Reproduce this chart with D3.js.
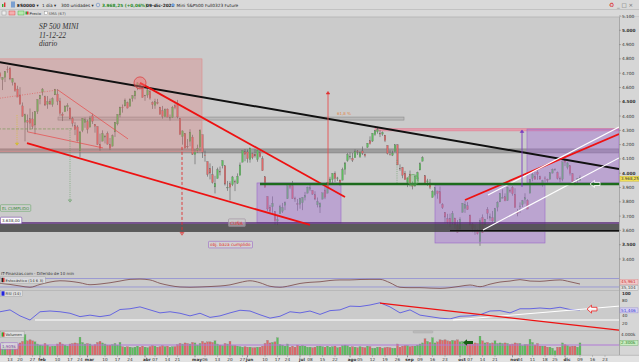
<!DOCTYPE html>
<html>
<head>
<meta charset="utf-8">
<script src="https://cdn.jsdelivr.net/npm/d3@7"></script>
<style>
html, body { margin: 0; padding: 0; background: #cbcbcb; overflow: hidden; }
svg { display: block; font-family: "DejaVu Sans", sans-serif; }
</style>
</head>
<body>
<script>
// daily candles, [open, high, low, close], one array per month (2022)
const ohlcJan = [[4778,4797,4758,4797],[4804,4819,4774,4794],[4787,4798,4699,4701],[4693,4725,4671,4696],[4698,4708,4663,4677],[4655,4673,4582,4670],[4670,4714,4638,4713],[4728,4749,4703,4726],[4733,4744,4651,4659],[4637,4666,4614,4663],[4632,4633,4569,4577],[4589,4612,4532,4533],[4548,4602,4480,4483],[4471,4495,4396,4398],[4357,4417,4223,4410],[4367,4411,4287,4356],[4381,4453,4305,4350],[4380,4429,4309,4327],[4337,4432,4273,4432],[4431,4516,4415,4516]]
const ohlcFeb = [[4520,4547,4482,4547],[4567,4596,4544,4589],[4535,4543,4470,4477],[4482,4540,4451,4501],[4505,4522,4477,4484],[4480,4531,4465,4522],[4548,4590,4548,4587],[4554,4589,4477,4504],[4506,4527,4402,4419],[4413,4426,4365,4402],[4430,4472,4430,4471],[4464,4490,4434,4475],[4457,4460,4376,4380],[4384,4394,4327,4349],[4333,4357,4267,4305],[4324,4336,4222,4226],[4155,4295,4114,4289],[4299,4385,4287,4385],[4354,4389,4318,4374]]
const ohlcMar = [[4363,4375,4278,4306],[4322,4401,4322,4387],[4401,4417,4345,4363],[4342,4343,4284,4329],[4327,4327,4199,4201],[4202,4277,4157,4171],[4224,4300,4224,4278],[4253,4269,4209,4260],[4279,4292,4200,4204],[4202,4247,4162,4173],[4189,4271,4188,4262],[4289,4358,4254,4358],[4345,4412,4335,4412],[4407,4465,4392,4463],[4462,4481,4424,4461],[4470,4523,4469,4512],[4494,4501,4453,4456],[4469,4521,4465,4520],[4522,4546,4501,4543],[4541,4575,4517,4576],[4603,4637,4581,4632],[4624,4627,4589,4602],[4599,4603,4530,4530]]
const ohlcApr = [[4541,4548,4507,4546],[4547,4593,4528,4583],[4573,4593,4514,4525],[4495,4503,4450,4481],[4474,4521,4451,4500],[4495,4520,4482,4488],[4463,4464,4408,4413],[4437,4471,4382,4397],[4395,4454,4392,4447],[4449,4453,4392,4393],[4386,4411,4368,4392],[4390,4471,4387,4462],[4473,4489,4447,4459],[4489,4513,4384,4394],[4385,4386,4267,4272],[4256,4300,4200,4296],[4279,4279,4175,4175],[4188,4240,4173,4184],[4223,4308,4188,4288],[4253,4269,4128,4132]]
const ohlcMay = [[4131,4169,4063,4155],[4159,4200,4144,4175],[4182,4308,4152,4300],[4270,4270,4107,4147],[4128,4158,4081,4123],[4082,4082,3976,3991],[4035,4069,3957,4001],[3990,4050,3928,3935],[3904,3982,3859,3930],[3963,4039,3963,4024],[4013,4047,3985,4008],[4052,4089,4034,4089],[4052,4052,3914,3924],[3900,3946,3877,3901],[3927,3944,3810,3901],[3920,3981,3910,3974],[3942,3955,3875,3941],[3930,3999,3925,3979],[3985,4075,3985,4058],[4077,4158,4077,4158],[4151,4169,4084,4132]]
const ohlcJun = [[4149,4166,4074,4101],[4095,4177,4074,4177],[4137,4143,4098,4109],[4134,4168,4110,4121],[4096,4164,4080,4161],[4148,4164,4110,4116],[4102,4119,4017,4018],[3975,3975,3900,3901],[3838,3838,3735,3750],[3763,3778,3722,3735],[3765,3838,3723,3790],[3733,3733,3640,3667],[3665,3708,3637,3675],[3716,3779,3716,3765],[3734,3792,3722,3760],[3775,3803,3742,3796],[3821,3913,3821,3912],[3920,3928,3889,3900],[3913,3946,3820,3822],[3826,3836,3800,3819],[3786,3819,3738,3785]]
const ohlcJul = [[3782,3829,3752,3825],[3793,3832,3742,3831],[3831,3869,3810,3845],[3860,3906,3860,3903],[3888,3919,3875,3899],[3880,3880,3849,3854],[3851,3874,3812,3819],[3779,3830,3761,3802],[3763,3796,3722,3790],[3819,3863,3817,3863],[3883,3903,3819,3831],[3860,3939,3860,3937],[3935,3975,3929,3960],[3956,3999,3927,3999],[4000,4013,3938,3962],[3966,3975,3946,3967],[3953,3954,3911,3921],[3951,4039,3951,4024],[4026,4079,3990,4072],[4088,4141,4080,4130]]
const ohlcAug = [[4113,4145,4097,4119],[4104,4141,4079,4091],[4108,4167,4108,4155],[4155,4162,4128,4152],[4115,4152,4107,4145],[4156,4187,4128,4140],[4133,4138,4111,4122],[4182,4211,4178,4210],[4227,4258,4201,4207],[4225,4280,4219,4280],[4270,4302,4262,4297],[4290,4325,4277,4305],[4281,4302,4253,4274],[4274,4292,4262,4284],[4267,4267,4218,4228],[4195,4195,4131,4138],[4133,4160,4124,4129],[4126,4157,4120,4141],[4154,4200,4148,4199],[4199,4203,4057,4058],[4034,4062,4017,4031],[4041,4044,3965,3986],[4000,4016,3954,3955]]
const ohlcSep = [[3937,3970,3903,3967],[3994,4019,3907,3924],[3931,3942,3887,3908],[3910,3987,3907,3980],[3960,4011,3944,4006],[4022,4077,4022,4067],[4084,4119,4083,4110],[3983,3985,3921,3933],[3940,3961,3912,3946],[3932,3959,3889,3901],[3831,3880,3830,3873],[3849,3900,3839,3900],[3876,3877,3822,3856],[3871,3907,3789,3790],[3782,3791,3750,3758],[3727,3727,3648,3693],[3682,3716,3644,3655],[3686,3717,3623,3647],[3651,3736,3641,3719],[3687,3687,3610,3640],[3633,3672,3585,3586]]
const ohlcOct = [[3610,3692,3604,3678],[3726,3791,3726,3791],[3753,3807,3723,3783],[3772,3798,3744,3745],[3707,3711,3633,3640],[3645,3653,3588,3612],[3595,3641,3569,3589],[3591,3609,3571,3577],[3521,3685,3492,3670],[3690,3712,3584,3583],[3638,3680,3638,3678],[3746,3763,3679,3720],[3686,3718,3667,3695],[3689,3736,3656,3666],[3657,3757,3647,3753],[3762,3804,3733,3797],[3799,3862,3799,3859],[3825,3887,3825,3831],[3835,3859,3804,3807],[3808,3905,3808,3901],[3882,3893,3863,3872]]
const ohlcNov = [[3901,3911,3843,3856],[3853,3895,3758,3760],[3733,3750,3699,3720],[3766,3796,3722,3771],[3780,3813,3764,3807],[3817,3860,3787,3828],[3810,3818,3751,3749],[3860,3960,3860,3956],[3964,4001,3944,3993],[3978,4008,3956,3957],[4007,4028,3954,3992],[3977,3983,3955,3959],[3919,3954,3906,3947],[3967,3979,3936,3965],[3957,3962,3934,3950],[3957,4005,3957,4004],[4001,4033,3999,4027],[4024,4035,4020,4026],[4005,4012,3956,3964],[3965,3977,3937,3958],[3958,4080,3944,4080]]
const ohlcDec = [[4087,4100,4050,4077],[4041,4077,4027,4072],[4053,4053,3984,3999],[3996,4001,3919,3941],[3937,3952,3917,3934],[3947,3966,3933,3964],[3950,3985,3945,3968]]

// volume, thousands of contracts
const volJan = [1500,1800,2100,1900,1800,2300,1700,1600,1900,1800,2100,2000,2300,2600,3900,2700,2900,2700,2500,2100]
const volFeb = [1900,1800,2200,1900,1600,1700,1700,2100,2400,2100,1900,1700,2100,2200,2300,2200,3400,2400,2100]
const volMar = [2200,2100,1800,2000,2400,2600,2300,2100,1900,1900,2000,2200,1900,2400,1600,1500,1600,1500,1400,1500,1700,1500,1700]
const volApr = [1500,1400,1600,1800,1700,1500,1600,1800,1600,1700,1500,1600,1600,2000,2200,2100,2300,2200,2100,2400]
const volMay = [2300,1900,2200,2600,2300,2500,2500,2400,2700,2100,1900,1800,2200,2100,2600,1800,1800,1700,1600,1500,1600]
const volJun = [1500,1500,1400,1400,1500,1500,1700,2200,2800,2300,2400,2500,3300,2000,1900,1700,2100,1500,1700,1500,1900]
const volJul = [1700,1800,1700,1500,1500,1400,1500,1700,1700,1600,1500,1700,1500,1600,1700,1400,1500,1800,1900,1800]
const volAug = [1500,1600,1500,1400,1600,1500,1400,1700,1600,1300,1300,1500,1500,1300,1400,1500,1400,1300,1300,2100,1500,1700,1800]
const volSep = [1800,1600,1700,1700,1900,2100,2300,3100,2600,2400,3300,2300,2500,2900,2800,2900,2700,2600,2800,2700,2900]
const volOct = [2500,2600,2400,2200,2600,2100,2300,2200,3600,2700,2300,2400,2200,2300,2700,2200,2300,2200,2300,2200,2000]
const volNov = [2100,2300,2200,2200,1800,2000,2000,3000,2400,1900,2200,1700,1700,1700,1500,1500,1300,800,1500,1500,2300]
const volDec = [2000,1800,1600,1700,1700,1500,2300]

// oscillators read every 4th session
const rsi14 = [52,50,55,39,28,50,52,50,46,37,41,37,41,56,58,63,55,47,50,46,39,46,35,39,47,54,52,42,33,38,50,47,52,43,53,55,65,64,68,74,63,47,55,41,37,33,31,38,39,42,52,53,47,58,58,60,58,62,56,55]
const stoch = [50,46,38,27,18,38,55,64,60,50,36,41,50,62,74,76,70,46,30,20,18,20,23,27,35,52,64,50,25,18,29,45,53,57,66,70,70,73,74,74,50,18,15,15,12,10,15,25,34,22,40,55,62,72,62,60,66,70,57,41]

// x axis: [session index, label]
const dayTicks = [[8,'13'],[12,'20'],[17,'27'],[27,'10'],[32,'17'],[36,'24'],[46,'10'],[51,'17'],[56,'24'],[66,'07'],[71,'14'],[75,'21'],[86,'06'],[91,'13'],[96,'20'],[101,'27'],[110,'10'],[115,'17'],[119,'24'],[128,'08'],[133,'15'],[138,'22'],[148,'05'],[153,'12'],[158,'19'],[163,'26'],[172,'09'],[177,'16'],[182,'23'],[192,'07'],[197,'14'],[202,'21'],[212,'04'],[217,'11'],[222,'18'],[226,'25'],[236,'09'],[241,'16'],[246,'23']]
const monthTicks = [[20,'feb'],[39,'mar'],[62,'abr'],[82,'may'],[103,'jun'],[124,'jul'],[144,'ago'],[167,'sep'],[188,'oct'],[209,'nov'],[230,'dic']]
const priceTicks = [3400,3500,3600,3700,3800,3900,4000,4100,4200,4300,4400,4500,4600,4700,4800,4900,5000,5100]
const rsiTicks = [20,40,80,100]
const lastPrice = 3968.25

const candles = [].concat(ohlcJan, ohlcFeb, ohlcMar, ohlcApr, ohlcMay, ohlcJun, ohlcJul, ohlcAug, ohlcSep, ohlcOct, ohlcNov, ohlcDec)
const volumes = [].concat(volJan, volFeb, volMar, volApr, volMay, volJun, volJul, volAug, volSep, volOct, volNov, volDec)
const bars = candles.map((c, i) => ({i: i, o: c[0], h: c[1], l: c[2], c: c[3], v: volumes[i]}))
const oscIdx = d3.range(0, 237, 4)

const W = 639, H = 362, plotR = 619
const up = '#5cbf5c', down = '#e06868'

const x = d3.scaleLinear().domain([0, 236]).range([-10, 580])
const yP = d3.scaleLinear().domain([3400, 5100]).range([259, 16])
const yS = d3.scaleLinear().domain([0, 100]).range([289.8, 275.7])
const yR = d3.scaleLinear().domain([0, 100]).range([330.5, 293])
const yV = d3.scaleLinear().domain([0, 4000]).range([355, 334])
const iEnd = x.invert(plotR)

const es = d3.formatLocale({decimal: ',', thousands: '.', grouping: [3], currency: ['', '']})
const fmtP = es.format(',')
const fmt2 = es.format(',.2f')

const svg = d3.select('body').append('svg').attr('width', W).attr('height', H)
const defs = svg.append('defs')
defs.append('clipPath').attr('id', 'cMain').append('rect').attr('x', 0).attr('y', 17).attr('width', plotR).attr('height', 253)
defs.append('clipPath').attr('id', 'cLow').append('rect').attr('x', 0).attr('y', 270).attr('width', plotR).attr('height', 85)

// background, toolbar
svg.append('rect').attr('width', W).attr('height', H).attr('fill', '#cbcbcb')
svg.append('rect').attr('width', W).attr('height', 17).attr('fill', '#d9d9d9')
svg.append('line').attr('x1', 0).attr('x2', W).attr('y1', 9.5).attr('y2', 9.5).attr('stroke', '#c2c2c2')
svg.append('line').attr('x1', 0).attr('x2', W).attr('y1', 17).attr('y2', 17).attr('stroke', '#b8b8b8')
svg.append('rect').attr('x', plotR).attr('y', 17).attr('width', W - plotR).attr('height', 338).attr('fill', '#d6d6d6')
svg.append('line').attr('x1', plotR + 0.5).attr('x2', plotR + 0.5).attr('y1', 17).attr('y2', 362).attr('stroke', '#8a8a8a').attr('stroke-width', 0.6)

const tb = svg.append('g').attr('font-size', 4.3).attr('fill', '#222')
tb.append('rect').attr('x', 2).attr('y', 4).attr('width', 1.4).attr('height', 3).attr('fill', '#3a3')
tb.append('rect').attr('x', 4).attr('y', 2.5).attr('width', 1.4).attr('height', 4.5).attr('fill', '#d33')
tb.append('rect').attr('x', 11).attr('y', 1.5).attr('width', 4).attr('height', 6).attr('fill', '#7a9fd0')
tb.append('text').attr('x', 17).attr('y', 6.5).attr('font-weight', 'bold').text('ES0000 ▾')
tb.append('text').attr('x', 42).attr('y', 6.5).text('1 día ▾')
tb.append('text').attr('x', 61).attr('y', 6.5).text('300 unidades ▾')
tb.append('circle').attr('cx', 98).attr('cy', 5).attr('r', 1.8).attr('fill', 'none').attr('stroke', '#4a7ac0').attr('stroke-width', 0.5)
tb.append('text').attr('x', 102).attr('y', 6.5).attr('fill', '#1f8a1f').attr('font-weight', 'bold').text('3.968,25 (+0,06%)')
tb.append('text').attr('x', 146).attr('y', 6.5).attr('font-weight', 'bold').text('09-dic-2022')
tb.append('circle').attr('cx', 173).attr('cy', 5).attr('r', 1.6).attr('fill', '#6fa0e0')
tb.append('text').attr('x', 176.5).attr('y', 6.5).text('Mini S&P500 Full0323 Future')
tb.append('rect').attr('x', 2).attr('y', 11).attr('width', 4).attr('height', 4).attr('fill', '#eee').attr('stroke', '#888').attr('stroke-width', 0.4)
tb.append('rect').attr('x', 9).attr('y', 11).attr('width', 6).attr('height', 4).attr('fill', '#f4b0b0').attr('stroke', '#d33').attr('stroke-width', 0.4)
tb.append('rect').attr('x', 18).attr('y', 11).attr('width', 6).attr('height', 4).attr('fill', '#b8e8b0').attr('stroke', '#3a3').attr('stroke-width', 0.4)
tb.append('rect').attr('x', 25.5).attr('y', 11.5).attr('width', 1.5).attr('height', 3).attr('fill', '#3a3')
tb.append('rect').attr('x', 27).attr('y', 11.5).attr('width', 1.5).attr('height', 3).attr('fill', '#d33')
tb.append('text').attr('x', 29.5).attr('y', 15).attr('font-size', 3.8).text('Precio')
tb.append('rect').attr('x', 44.5).attr('y', 11.5).attr('width', 3).attr('height', 3).attr('fill', '#fff').attr('stroke', '#888').attr('stroke-width', 0.4)
tb.append('text').attr('x', 48.5).attr('y', 15).attr('font-size', 3.8).attr('fill', '#555').text('SMA (67)')
tb.append('text').attr('x', 609).attr('y', 7).attr('font-size', 6).attr('fill', '#d33').text('♻')
tb.append('text').attr('x', 617).attr('y', 7).attr('font-size', 5.5).attr('fill', '#666').text('_ □ ×')

// main pane
const main = svg.append('g').attr('clip-path', 'url(#cMain)')
const seg = (g, i0, p0, i1, p1, col, w, dash) => g.append('line')
  .attr('x1', x(i0)).attr('y1', yP(p0)).attr('x2', x(i1)).attr('y2', yP(p1))
  .attr('stroke', col).attr('stroke-width', w).attr('stroke-dasharray', dash || null)
const zone = (g, i0, i1, pTop, pBot, fill, stroke, sw) => g.append('rect')
  .attr('x', x(i0)).attr('y', yP(pTop)).attr('width', x(i1) - x(i0)).attr('height', yP(pBot) - yP(pTop))
  .attr('fill', fill).attr('stroke', stroke || 'none').attr('stroke-width', sw || 0.6)

// bands behind candles
zone(main, 27.2, 165.6, 4393, 4372, 'rgba(175,175,175,0.6)', '#8c8c8c', 0.6)
zone(main, -4, iEnd, 4170, 4142, 'rgba(120,120,120,0.55)', '#707070', 0.5)
zone(main, 154, iEnd, 4313, 4296, 'rgba(236,140,160,0.75)', '#e07a90', 0.5)

// candles
main.selectAll('line.wick').data(bars).join('line').attr('class', 'wick')
  .attr('x1', d => x(d.i)).attr('x2', d => x(d.i)).attr('y1', d => yP(d.h)).attr('y2', d => yP(d.l))
  .attr('stroke', '#5a5a5a').attr('stroke-width', 0.6)
main.selectAll('rect.body').data(bars).join('rect').attr('class', 'body')
  .attr('x', d => x(d.i) - 0.85).attr('width', 1.7)
  .attr('y', d => yP(Math.max(d.o, d.c)))
  .attr('height', d => Math.max(0.6, Math.abs(yP(d.o) - yP(d.c))))
  .attr('fill', d => d.c >= d.o ? up : down)
  .attr('stroke', '#6a6a6a').attr('stroke-width', 0.25)

// boxes on top of price
zone(main, -4, 84.8, 4800, 4150, 'rgba(225,110,110,0.28)', '#e08a8a', 0.6)
zone(main, 106.8, 140.4, 3932, 3652, 'rgba(165,110,215,0.42)', '#9a68c8', 0.6)
zone(main, 178, 222, 3918, 3512, 'rgba(165,110,215,0.42)', '#9a68c8', 0.6)
zone(main, 214.8, iEnd, 4309, 3932, 'rgba(165,110,215,0.42)', '#9a68c8', 0.6)
zone(main, -4, iEnd, 3645, 3589, 'rgba(70,70,70,0.85)', 'none')
seg(main, -4, 3652, iEnd, 3652, '#5b2d7a', 1.3)
seg(main, 184, 3599, iEnd, 3599, '#111', 1.3)

// trend lines
seg(main, -4, 4800, iEnd, 4030, '#111', 2)
seg(main, 14.8, 4211, 128, 3638, '#ee1111', 1.8)
seg(main, 60, 4632, 142, 3834, '#ee1111', 1.8)
seg(main, 27.2, 4582, 55.2, 4240, '#e84848', 0.7)
seg(main, 15.2, 4289, 45.2, 4177, '#e84848', 0.7)
seg(main, -4, 4505, 26.8, 4582, '#e05a5a', 0.7, '1,1.5')
seg(main, 190, 3813, iEnd, 4274, '#ee1111', 1.8)
seg(main, 197.2, 3603, iEnd, 4107, '#ffffff', 1.2)
seg(main, 199.2, 3848, iEnd, 4323, '#ffffff', 1.2)
seg(main, 108, 3925, iEnd, 3925, '#1d6b1d', 2.6)

// circles
main.append('circle').attr('cx', x(60)).attr('cy', yP(4632)).attr('r', 6)
  .attr('fill', 'rgba(240,120,120,0.45)').attr('stroke', '#dd3333').attr('stroke-width', 0.7)
main.append('circle').attr('cx', x(169.2)).attr('cy', yP(3953)).attr('r', 5.5)
  .attr('fill', 'rgba(120,200,120,0.3)').attr('stroke', '#55aa55').attr('stroke-width', 0.6)

// projection arrows
const tri = (g, i, p, dir, size, fill, stroke) => {
  const cx = x(i), cy = yP(p), s = size
  const pts = dir === 'up' ? [[cx, cy], [cx - s, cy + s * 1.4], [cx + s, cy + s * 1.4]]
                           : [[cx, cy], [cx - s, cy - s * 1.4], [cx + s, cy - s * 1.4]]
  g.append('path').attr('d', 'M' + pts.join('L') + 'Z').attr('fill', fill).attr('stroke', stroke).attr('stroke-width', 0.6)
}
seg(main, 76.8, 4184, 76.8, 3572, '#e03030', 0.9, '3,2')
tri(main, 76.8, 3566, 'down', 2, 'none', '#e03030')
seg(main, 135.2, 3904, 135.2, 4560, '#e85050', 0.9)
tri(main, 135.2, 4572, 'up', 1.8, '#e03030', '#e03030')
seg(main, 212.8, 3904, 212.8, 4292, '#7a3cc0', 0.9)
tri(main, 212.8, 4303, 'up', 1.8, '#7a3cc0', '#7a3cc0')
seg(main, 32, 4316, 32, 3806, '#5a9a5a', 0.6, '1,1.2')
tri(main, 32, 3798, 'down', 1.6, 'none', '#5a9a5a')
seg(main, -4, 4310, 32.8, 4310, '#7a9a5a', 0.7, '3,1.5')
seg(main, 10.8, 4407, 10.8, 4205, '#d8c030', 0.7, '1,1.2')
tri(main, 10.8, 4196, 'down', 1.5, '#e8d040', '#c8b020')
seg(main, 162.8, 4093, 162.8, 3927, '#5a9a5a', 0.6, '1,1.2')

// hollow left arrow
const arrowLeft = (g, tx, ty, w, h, fill, stroke) => {
  const a = h / 2, hd = w * 0.45, t = a * 0.45
  const pts = [[0, 0], [hd, -a], [hd, -t], [w, -t], [w, t], [hd, t], [hd, a]].map(p => [tx + p[0], ty + p[1]])
  g.append('path').attr('d', 'M' + pts.join('L') + 'Z').attr('fill', fill).attr('stroke', stroke).attr('stroke-width', 0.8)
}
arrowLeft(main, x(240), yP(3925), 10, 7, 'none', '#ffffff')

// text notes in main pane
const note = (g, i, p, txt, col, fs, box) => {
  const t = g.append('text').attr('x', x(i)).attr('y', yP(p)).attr('font-size', fs).attr('fill', col).text(txt)
  if (box) {
    const b = t.node().getBBox()
    g.insert('rect', () => t.node()).attr('x', b.x - 1.5).attr('y', b.y - 0.8).attr('width', b.width + 3).attr('height', b.height + 1.6)
      .attr('fill', box[0]).attr('stroke', box[1]).attr('stroke-width', 0.6).attr('rx', 0.8)
  }
}
note(main, 138.8, 4410, '61,8 %', '#e0874a', 4)
note(main, 96, 3640, 'CUÑA', '#e03030', 4.5, ['rgba(205,205,205,0.5)', '#9a8a9a'])
note(main, 88, 3490, 'obj. baza cumplido', '#e03030', 4.3, ['#d2d2d2', '#9a68c8'])

const title = svg.append('g').attr('font-family', '"Liberation Serif", serif').attr('font-style', 'italic')
  .attr('font-size', 7.5).attr('fill', '#333')
title.append('text').attr('x', 39).attr('y', 29).text('SP 500 MINI')
title.append('text').attr('x', 39).attr('y', 37.5).text('11-12-22')
title.append('text').attr('x', 39).attr('y', 46).text('diario')

const leftTag = (yy, txt, col, fill, stroke) => {
  const t = svg.append('text').attr('x', 2).attr('y', yy).attr('font-size', 4).attr('fill', col).text(txt)
  const b = t.node().getBBox()
  svg.insert('rect', () => t.node()).attr('x', 0.5).attr('y', b.y - 0.8).attr('width', b.width + 3).attr('height', b.height + 1.6)
    .attr('fill', fill).attr('stroke', stroke).attr('stroke-width', 0.6).attr('rx', 0.8)
}
leftTag(209.5, 'EL CUMPLIDO', '#3a8a3a', 'rgba(210,210,210,0.6)', '#6aaa6a')
leftTag(222, fmt2(3638), '#333', '#ffffff', '#7a4aaa')

// price axis
const pAxis = svg.append('g').attr('font-size', 4.3).attr('fill', '#333')
priceTicks.forEach(p => {
  pAxis.append('line').attr('x1', plotR).attr('x2', plotR + 2).attr('y1', yP(p)).attr('y2', yP(p)).attr('stroke', '#777').attr('stroke-width', 0.5)
  pAxis.append('text').attr('x', plotR + 3).attr('y', yP(p) + 1.5).attr('font-weight', p % 500 === 0 ? 'bold' : null).text(fmtP(p))
})
pAxis.append('rect').attr('x', plotR + 1).attr('y', yP(lastPrice) - 1.6).attr('width', 19).attr('height', 5)
  .attr('fill', '#f2e35a').attr('stroke', '#c9b020').attr('stroke-width', 0.4)
pAxis.append('text').attr('x', plotR + 2).attr('y', yP(lastPrice) + 2.2).attr('font-size', 4).text(fmt2(lastPrice))

// lower panes
svg.append('text').attr('x', 1).attr('y', 274.5).attr('font-size', 4).attr('fill', '#333').text('IT-Finanzas.com - Diferido de 10 min')
;[290.5, 330.5].forEach(yy => svg.append('line').attr('x1', 0).attr('x2', plotR).attr('y1', yy).attr('y2', yy).attr('stroke', '#adadad').attr('stroke-width', 0.6))
const low = svg.append('g').attr('clip-path', 'url(#cLow)')

// stochastic
;[80, 20].forEach(v => low.append('line').attr('x1', 0).attr('x2', plotR).attr('y1', yS(v)).attr('y2', yS(v)).attr('stroke', '#7a78d8').attr('stroke-width', 0.6))
low.append('path').datum(stoch)
  .attr('d', d3.line().x((d, k) => x(oscIdx[k])).y(d => yS(d)).curve(d3.curveMonotoneX))
  .attr('fill', 'none').attr('stroke', '#7a4646').attr('stroke-width', 0.8)

// rsi
low.append('path').datum(rsi14)
  .attr('d', d3.line().x((d, k) => x(oscIdx[k])).y(d => yR(d)))
  .attr('fill', 'none').attr('stroke', '#3a3ae8').attr('stroke-width', 0.7)
const segR = (i0, v0, i1, v1, col, w) => low.append('line').attr('x1', x(i0)).attr('y1', yR(v0)).attr('x2', x(i1)).attr('y2', yR(v1)).attr('stroke', col).attr('stroke-width', w)
segR(18, 28, iEnd, 28, '#ffffff', 1)
segR(185.2, 28, iEnd, 65, '#ffffff', 1)
segR(156, 73, iEnd, 1, '#ee1111', 1.2)
arrowLeft(low, x(238.8), yR(57), 10, 8, 'rgba(255,255,255,0.7)', '#ee2222')

// volume
const vLine = 1905
low.selectAll('rect.vol').data(bars).join('rect').attr('class', 'vol')
  .attr('x', d => x(d.i) - 1).attr('width', 2)
  .attr('y', d => yV(d.v)).attr('height', d => yV(0) - yV(d.v))
  .attr('fill', d => d.c >= d.o ? up : down).attr('stroke', '#777').attr('stroke-width', 0.2)
low.append('line').attr('x1', 0).attr('x2', plotR).attr('y1', yV(vLine)).attr('y2', yV(vLine)).attr('stroke', '#b27ad8').attr('stroke-width', 1.1)
const ga = [[0, 0], [4, -3.2], [4, -1.4], [10, -1.4], [10, 1.4], [4, 1.4], [4, 3.2]].map(p => [x(189.2) + p[0], yV(2380) + p[1]])
low.append('path').attr('d', 'M' + ga.join('L') + 'Z').attr('fill', '#156015')
low.append('rect').attr('x', 413).attr('y', 330.8).attr('width', 20).attr('height', 2.2).attr('rx', 1).attr('fill', '#bdbdbd').attr('stroke', '#999').attr('stroke-width', 0.3)

// pane legends
const legend = (yy, txt, c1, c2) => {
  const g = svg.append('g')
  const t = g.append('text').attr('x', 5.5).attr('y', yy).attr('font-size', 3.8).attr('fill', '#333').text(txt)
  const b = t.node().getBBox()
  g.insert('rect', () => t.node()).attr('x', 0.5).attr('y', b.y - 0.6).attr('width', b.width + 6.5).attr('height', b.height + 1.2)
    .attr('fill', 'rgba(225,225,225,0.8)').attr('stroke', '#999').attr('stroke-width', 0.4)
  g.append('rect').attr('x', 1.5).attr('y', b.y + 0.3).attr('width', 1.5).attr('height', b.height - 0.6).attr('fill', c1)
  g.append('rect').attr('x', 3).attr('y', b.y + 0.3).attr('width', 1.5).attr('height', b.height - 0.6).attr('fill', c2)
}
legend(281.5, 'Estocástico (14 6 3)', '#222', '#c33')
legend(295, 'RSI (14)', '#2222dd', '#2222dd')
legend(336, 'Volumen', '#3a3', '#d33')
leftTag(347.5, es.format(',')(vLine) + 'k', '#7a4aaa', 'rgba(225,225,225,0.8)', '#9a68c8')

// right axis for lower panes
const rAx = svg.append('g').attr('font-size', 4.2).attr('fill', '#333')
const tag = (yy, txt, col, fill, stroke) => {
  rAx.append('rect').attr('x', plotR + 1).attr('y', yy - 2.6).attr('width', 18).attr('height', 5).attr('fill', fill).attr('stroke', stroke).attr('stroke-width', 0.4)
  rAx.append('text').attr('x', plotR + 2).attr('y', yy + 1.4).attr('fill', col).text(txt)
}
tag(282, '45,961', '#cc3333', '#f1c9c9', '#d88')
tag(288, '35,104', '#444', '#e6e6e6', '#999')
rsiTicks.forEach(v => rAx.append('text').attr('x', plotR + 3).attr('y', yR(v) + 1.5).attr('font-weight', v === 100 ? 'bold' : null).text(v))
tag(310.5, '51,446', '#3a3ad0', '#d5d0f0', '#8a80d0')
rAx.append('text').attr('x', plotR + 2).attr('y', yV(4000) + 1.5).text('4.000k')
tag(yV(2300), '2.300k', '#2a7a2a', '#c8ecc0', '#6a6')

// x axis
svg.append('rect').attr('x', 0).attr('y', 355).attr('width', W).attr('height', 7).attr('fill', '#e2e2e2')
svg.append('line').attr('x1', 0).attr('x2', W).attr('y1', 355.3).attr('y2', 355.3).attr('stroke', '#999').attr('stroke-width', 0.5)
const xa = svg.append('g').attr('font-size', 4.2).attr('fill', '#333').attr('text-anchor', 'middle')
dayTicks.forEach(t => {
  xa.append('line').attr('x1', x(t[0])).attr('x2', x(t[0])).attr('y1', 355.3).attr('y2', 356.8).attr('stroke', '#777').attr('stroke-width', 0.4)
  xa.append('text').attr('x', x(t[0])).attr('y', 360.8).text(t[1])
})
monthTicks.forEach(t => {
  xa.append('line').attr('x1', x(t[0])).attr('x2', x(t[0])).attr('y1', 355.3).attr('y2', 357.3).attr('stroke', '#444').attr('stroke-width', 0.5)
  xa.append('text').attr('x', x(t[0]) + 2).attr('y', 360.8).attr('font-weight', 'bold').text(t[1])
})
</script>
</body>
</html>
